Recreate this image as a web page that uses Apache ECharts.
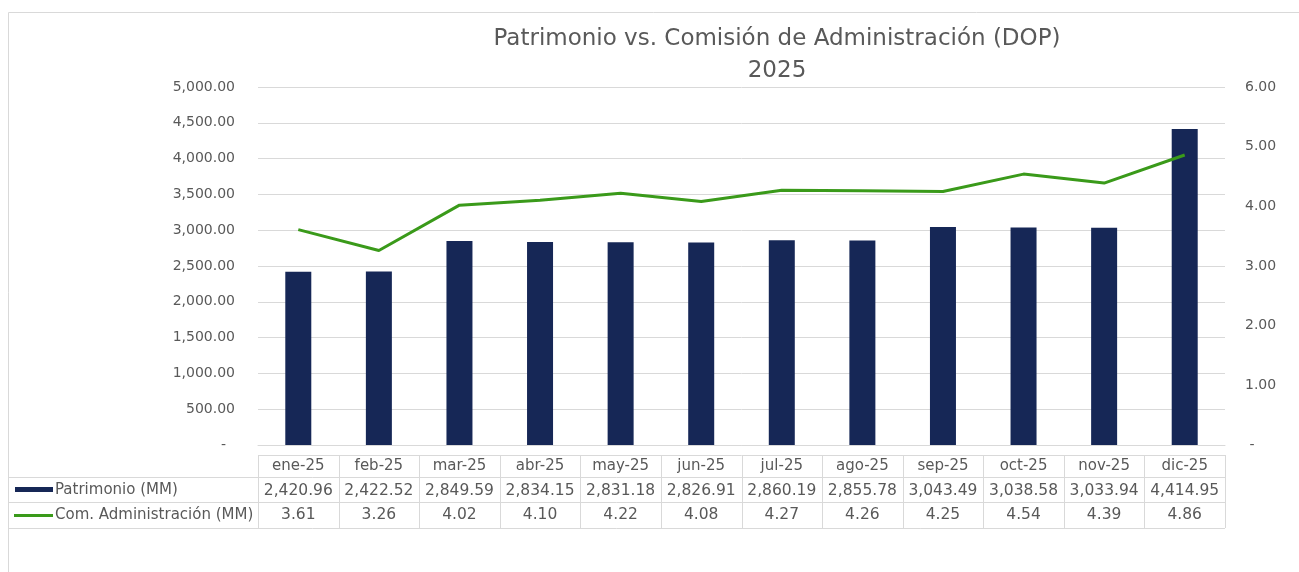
<!DOCTYPE html>
<html>
<head>
<meta charset="utf-8">
<script src="https://cdn.jsdelivr.net/npm/echarts@6/dist/echarts.min.js"></script>
<style>
  html, body { margin: 0; padding: 0; background: #fff; }
  #chart { width: 1299px; height: 572px; }
</style>
</head>
<body>
<div id="chart"></div>
<script>
const months = ['ene-25', 'feb-25', 'mar-25', 'abr-25', 'may-25', 'jun-25',
                'jul-25', 'ago-25', 'sep-25', 'oct-25', 'nov-25', 'dic-25'];
const patrimonio = [2420.96, 2422.52, 2849.59, 2834.15, 2831.18, 2826.91,
                    2860.19, 2855.78, 3043.49, 3038.58, 3033.94, 4414.95];
const comision = [3.61, 3.26, 4.02, 4.10, 4.22, 4.08, 4.27, 4.26, 4.25, 4.54, 4.39, 4.86];

const FONT = 'DejaVu Sans';
const GREY = '#595959';
const LINE = '#d9d9d9';
const NAVY = '#162756';
const GREEN = '#3a9a1a';

// plot / table geometry
const plotL = 258, plotR = 1225;
const tblTop = 455, rowY = [477, 502, 528];

const fmt = (v, d) => v.toLocaleString('en-US', { minimumFractionDigits: d, maximumFractionDigits: d });

const ln = (x1, y1, x2, y2, color, w) =>
  ({ type: 'line', silent: true, z: 100, shape: { x1, y1, x2, y2 }, style: { stroke: color || LINE, lineWidth: w || 1 } });

const extras = [];
// outer frame
extras.push(ln(8.5, 12.5, 1299, 12.5));
extras.push(ln(8.5, 12.5, 8.5, 572));
// data table grid
extras.push(ln(plotL, tblTop + 0.5, plotR, tblTop + 0.5));
rowY.forEach(y => extras.push(ln(8.5, y + 0.5, plotR, y + 0.5)));
const colW = (plotR - plotL) / months.length;
for (let i = 0; i <= months.length; i++) {
  const x = Math.round(plotL + i * colW) + 0.5;
  extras.push(ln(x, tblTop, x, rowY[2]));
}
// legend keys in the table
extras.push({ type: 'rect', silent: true, shape: { x: 15, y: 487, width: 38, height: 5 }, style: { fill: NAVY } });
extras.push(ln(14, 515.5, 53, 515.5, GREEN, 3));
[['Patrimonio (MM)', 490], ['Com. Administración (MM)', 515.5]].forEach(([t, y]) => {
  extras.push({ type: 'text', silent: true, x: 55, y: y,
    style: { text: t, fill: GREY, font: `15px "${FONT}"`, verticalAlign: 'middle', align: 'left' } });
});

const chart = echarts.init(document.getElementById('chart'));
chart.setOption({
  animation: false,
  textStyle: { fontFamily: FONT },
  title: {
    text: 'Patrimonio vs. Comisión de Administración (DOP)\n2025',
    left: 772,
    top: 18,
    textAlign: 'center',
    textStyle: { color: GREY, fontSize: 23, fontWeight: 'normal', lineHeight: 32, fontFamily: FONT }
  },
  legend: { show: false },
  grid: { left: plotL, right: 1299 - plotR, top: 87, bottom: 572 - 445 },
  xAxis: {
    type: 'category',
    data: months,
    axisTick: { show: false },
    axisLine: { lineStyle: { color: LINE } },
    axisLabel: {
      interval: 0,
      margin: 9,
      color: GREY,
      formatter: (v, i) => `{m|${v}}\n{v|${fmt(patrimonio[i], 2)}}\n{v|${fmt(comision[i], 2)}}`,
      rich: {
        m: { fontSize: 15, lineHeight: 24.5, color: GREY, fontFamily: FONT },
        v: { fontSize: 15.5, lineHeight: 24.5, color: GREY, fontFamily: FONT }
      }
    }
  },
  yAxis: [
    {
      type: 'value', min: 0, max: 5000, interval: 500,
      axisLine: { show: false }, axisTick: { show: false },
      splitLine: { lineStyle: { color: LINE } },
      axisLabel: { color: GREY, fontSize: 14, margin: 23, formatter: v => v === 0 ? '-  ' : fmt(v, 2) }
    },
    {
      type: 'value', min: 0, max: 6, interval: 1,
      axisLine: { show: false }, axisTick: { show: false },
      splitLine: { show: false },
      axisLabel: { color: GREY, fontSize: 14, margin: 20, formatter: v => v === 0 ? ' -' : fmt(v, 2) }
    }
  ],
  series: [
    {
      name: 'Patrimonio (MM)',
      type: 'bar',
      data: patrimonio,
      barWidth: 26,
      itemStyle: { color: NAVY }
    },
    {
      name: 'Com. Administración (MM)',
      type: 'line',
      yAxisIndex: 1,
      data: comision,
      symbol: 'none',
      lineStyle: { color: GREEN, width: 3 },
      itemStyle: { color: GREEN }
    }
  ],
  graphic: extras
});
</script>
</body>
</html>
